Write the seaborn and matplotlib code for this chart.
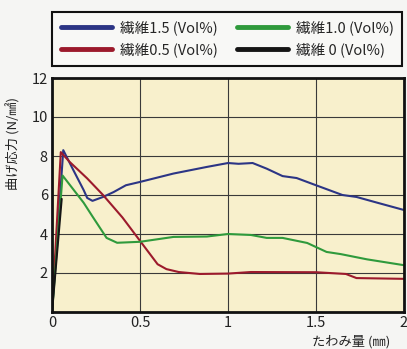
import matplotlib
matplotlib.use("Agg")
import matplotlib.pyplot as plt
import seaborn as sns
import pandas as pd

# ---- data ----
labels = ["繊維1.5 (Vol%)", "繊維0.5 (Vol%)", "繊維1.0 (Vol%)", "繊維 0 (Vol%)"]
colors = ["#2c3585", "#9c1a2c", "#2f9a3c", "#151515"]

x_15 = [0, 0.064, 0.12, 0.18, 0.2, 0.23, 0.29, 0.35, 0.42, 0.5, 0.69, 0.88, 1.0,
        1.06, 1.14, 1.22, 1.31, 1.39, 1.5, 1.65, 1.73, 1.85, 2.0]
y_15 = [0, 8.3, 7.3, 6.25, 5.85, 5.7, 5.9, 6.15, 6.5, 6.67, 7.1, 7.44, 7.64,
        7.6, 7.64, 7.35, 6.97, 6.87, 6.5, 6.0, 5.9, 5.6, 5.23]

x_05 = [0, 0.05, 0.1, 0.2, 0.29, 0.4, 0.5, 0.6, 0.65, 0.72, 0.84, 1.0, 1.13,
        1.5, 1.67, 1.73, 2.0]
y_05 = [0, 8.2, 7.7, 6.85, 6.0, 4.85, 3.65, 2.45, 2.2, 2.05, 1.95, 1.97, 2.05,
        2.04, 1.95, 1.74, 1.7]

x_10 = [0, 0.06, 0.18, 0.23, 0.31, 0.37, 0.5, 0.69, 0.88, 1.0, 1.13, 1.22, 1.31,
        1.45, 1.56, 1.64, 1.79, 2.0]
y_10 = [0, 7.0, 5.6, 4.9, 3.8, 3.55, 3.6, 3.85, 3.87, 4.0, 3.95, 3.8, 3.8,
        3.54, 3.08, 2.97, 2.7, 2.4]

x_00 = [0, 0.055]
y_00 = [0, 5.8]

xticks = [0, 0.5, 1, 1.5, 2]
xticklabels = ["0", "0.5", "1", "1.5", "2"]
yticks = [2, 4, 6, 8, 10, 12]
yticklabels = ["2", "4", "6", "8", "10", "12"]

# ---- frame ----
frames = []
for lab, xs, ys in zip(labels, [x_15, x_05, x_10, x_00], [y_15, y_05, y_10, y_00]):
    frames.append(pd.DataFrame({"x": xs, "y": ys, "s": lab}))
df = pd.concat(frames, ignore_index=True)

sns.set_theme(style="white")
plt.rcParams["font.family"] = ["Noto Sans CJK JP", "DejaVu Sans"]

fig = plt.figure(figsize=(4.07, 3.49), dpi=100)
fig.patch.set_facecolor("#f5f5f3")
ax = fig.add_axes([52/407, 1 - 312/349, 352/407, 234/349])
ax.set_facecolor("#f8f0cc")

sns.lineplot(data=df, x="x", y="y", hue="s", palette=dict(zip(labels, colors)),
             hue_order=labels, sort=False, estimator=None, units="s",
             linewidth=1.5, legend=False, ax=ax)

ax.set_xlim(0, 2)
ax.set_ylim(0, 12)
ax.set_xticks(xticks)
ax.set_xticklabels(xticklabels, fontsize=10.5, color="#222")
ax.set_yticks(yticks)
ax.set_yticklabels(yticklabels, fontsize=10.5, color="#222")
ax.tick_params(length=0, pad=3)
ax.grid(True, color="#3a3a3a", linewidth=0.8)
ax.set_axisbelow(True)
for sp in ax.spines.values():
    sp.set_visible(True)
    sp.set_color("#111")
    sp.set_linewidth(2)

ax.set_xlabel("たわみ量 (㎜)", fontsize=9.5, color="#222")
ax.xaxis.set_label_coords(0.85, -0.1)
ax.set_ylabel("曲げ応力 (N/㎟)", fontsize=9.5, color="#222")
ax.yaxis.set_label_coords(-0.09, 0.72)

from matplotlib.lines import Line2D
handles = [Line2D([], [], color=c, linewidth=3.5) for c in colors]
leg = fig.legend(handles, labels, loc="upper left", ncol=2,
                 bbox_to_anchor=(52/407, 1 - 12/349), borderaxespad=0,
                 fontsize=10.5, handlelength=3.5, handletextpad=0.55,
                 columnspacing=1.3, borderpad=0.6, labelspacing=0.45,
                 frameon=True, fancybox=False, edgecolor="#111",
                 facecolor="#f8f8f6", framealpha=1)
leg.get_frame().set_linewidth(1.5)

fig.savefig("out.png", dpi=100, facecolor=fig.get_facecolor())
